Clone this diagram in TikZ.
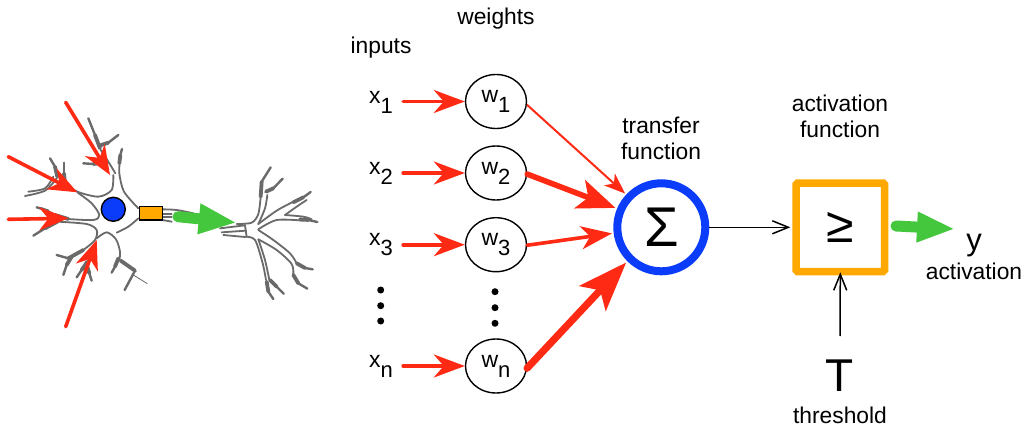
\documentclass[tikz,border=0pt]{standalone}
\usepackage{fontspec}
\setmainfont{Liberation Sans}
\usetikzlibrary{arrows.meta,calc,shapes.geometric}
\definecolor{nred}{HTML}{FF2A14}
\definecolor{nblue}{HTML}{0B3CFA}
\definecolor{norange}{HTML}{FFA800}
\definecolor{ngreen}{HTML}{44C63D}
\definecolor{ngray}{HTML}{6A6A6A}
\newcommand{\subbed}[2]{{\fontsize{23}{26}\selectfont #1}\raisebox{-10pt}{#2}}
% a tapered dendrite end: thick first part, thinner second part
\newcommand{\tap}[3]{\draw[denthick] plot[smooth] coordinates {#1 #2};\draw[dentip] plot[smooth] coordinates {#2 #3};}
\tikzset{
  lab/.style={font=\fontsize{22.8}{26}\selectfont,inner sep=0pt,anchor=base},
  inp/.style={font=\fontsize{22}{26}\selectfont,inner sep=0pt,anchor=base west},
  wnode/.style={ellipse,draw=black,line width=1.4pt,minimum width=61pt,minimum height=54pt,inner sep=0pt,font=\fontsize{22}{26}\selectfont},
  redin/.style={draw=nred,line width=3.6pt,-{Stealth[length=31pt,width=23pt,inset=10pt]},line cap=round},
  redone/.style={draw=nred,line width=2pt,-{Stealth[length=21pt,width=16pt,inset=6pt]}},
  redtwo/.style={draw=nred,line width=5.6pt,line cap=round,-{Stealth[length=38pt,width=30pt,inset=9pt]}},
  redthree/.style={draw=nred,line width=3.6pt,line cap=round,-{Stealth[length=31pt,width=23pt,inset=9pt]}},
  redfour/.style={draw=nred,line width=7.2pt,line cap=round,-{Stealth[length=49pt,width=36pt,inset=11pt]}},
  blackarr/.style={draw=black,line width=1.5pt,-{Straight Barb[length=16pt,width=13pt]}},
  greenarr/.style={draw=ngreen,line width=11pt,line cap=round,-{Stealth[length=38pt,width=28pt,inset=0pt]}},
  dot/.style={circle,fill=black,inner sep=0pt,minimum size=7pt},
  den/.style={draw=ngray,line width=1.8pt,line cap=round,line join=round},
  denthick/.style={draw=ngray,line width=3.8pt,line cap=round,line join=round},
  dentip/.style={draw=ngray,line width=2.4pt,line cap=round,line join=round},
  neuronred/.style={draw=nred,line width=3.6pt,line cap=round,-{Stealth[length=29pt,width=23pt,inset=9pt]}},
}
\begin{document}
\begin{tikzpicture}[x=1pt,y=-1pt]
\useasboundingbox (0,0) rectangle (1024,430);
\fill[white] (0,0) rectangle (1024,430);
% neuron, left part
\begin{scope}[shift={(0,80)},x=0.33333pt,y=-0.33333pt]
\draw[den] plot[smooth] coordinates {(415,385) (372,335) (358,280) (360,240)};
\tap{(358,250)}{(361,225)}{(366,207)}
\draw[den] plot[smooth] coordinates {(346,280) (325,245) (302,210)};
\tap{(300,205)}{(285,165)}{(265,115)}
\tap{(298,197)}{(325,188)}{(355,165)}
\tap{(308,248)}{(280,252)}{(250,250)}
\draw[den] plot[smooth] coordinates {(340,285) (335,330) (295,350) (232,335) (195,310)};
\tap{(195,310)}{(192,280)}{(192,248)}
\tap{(172,290)}{(165,260)}{(150,235)}
\draw[den] plot[smooth] coordinates {(160,290) (135,325) (85,335)};
\draw[den] plot[smooth] coordinates {(170,295) (135,332) (75,348)};
\draw[den] plot[smooth] coordinates {(232,337) (275,370) (298,405) (280,420) (205,417)};
\tap{(205,417)}{(165,405)}{(125,385)}
\draw[dentip] plot[smooth] coordinates {(145,392) (110,382)};
\tap{(172,425)}{(135,445)}{(100,467)}
\draw[den] plot[smooth] coordinates {(172,425) (260,432) (290,450) (285,480) (250,510)};
\tap{(250,510)}{(205,535)}{(170,525)}
\tap{(215,530)}{(200,555)}{(190,585)}
\tap{(262,545)}{(245,570)}{(230,592)}
\tap{(262,560)}{(268,580)}{(275,602)}
\draw[den] plot[smooth] coordinates {(290,475) (320,457) (348,478) (360,515) (358,540)};
\tap{(355,535)}{(345,560)}{(335,578)}
\tap{(362,542)}{(405,572)}{(374,630)}
\draw[ngray,line width=0.8pt] (400,585) -- (442,611);
\draw[den] plot[smooth] coordinates {(350,458) (385,440) (415,415)};
\end{scope}
% neuron, right part
\begin{scope}[shift={(130,140)},x=0.33333pt,y=-0.33333pt]
\draw[den] plot[smooth] coordinates {(97,208) (140,210) (190,220)};
\draw[den] plot[smooth] coordinates {(97,240) (125,245)};
\draw[den] (100,222) -- (125,222);
\draw[den] (100,232) -- (125,232);
\draw[den] (270,265) -- (345,256);
\draw[den] (275,277) -- (348,272);
\draw[den] plot[smooth] coordinates {(280,285) (345,291)};
\draw[den] (345,256) -- (350,291);
\draw[den] plot[smooth] coordinates {(320,252) (365,248) (385,222) (392,170)};
\tap{(392,170)}{(395,125)}{(422,82)}
\tap{(408,155)}{(430,145)}{(458,116)}
\draw[den] plot[smooth] coordinates {(385,252) (405,205) (412,165)};
\draw[den] plot[smooth] coordinates {(385,252) (440,212) (490,185) (520,170)};
\tap{(490,187)}{(520,172)}{(542,156)}
\draw[den] plot[smooth] coordinates {(465,225) (500,200) (530,180)};
\draw[den] plot[smooth] coordinates {(465,225) (520,230) (545,238)};
\draw[den] plot[smooth] coordinates {(385,268) (440,240) (520,242)};
\tap{(510,238)}{(535,240)}{(562,246)}
\draw[den] plot[smooth] coordinates {(385,270) (430,300) (480,340) (500,370)};
\draw[den] plot[smooth] coordinates {(385,298) (440,330) (485,372) (490,405)};
\tap{(490,405)}{(505,430)}{(532,446)}
\tap{(500,370)}{(525,384)}{(548,388)}
\draw[den] plot[smooth] coordinates {(345,290) (375,300) (398,370) (408,420)};
\draw[den] plot[smooth] coordinates {(385,298) (405,360) (418,420)};
\tap{(410,425)}{(415,455)}{(430,477)}
\tap{(420,420)}{(440,440)}{(461,461)}
\end{scope}
\node[circle,draw=black,fill=nblue,line width=1.4pt,minimum size=24pt,inner sep=0pt] (soma) at (113.3,209.3) {};
\node[rectangle,draw=black,fill=norange,line width=1.5pt,minimum width=23pt,minimum height=13.5pt,inner sep=0pt] (hill) at (151,213.3) {};
\coordinate (na) at (65.7,102.3); \coordinate (nat) at (110,175);
\coordinate (nb) at (8.3,156.7);  \coordinate (nbt) at (77.3,192.3);
\coordinate (nc) at (8.3,219.3);  \coordinate (nct) at (68.3,218.3);
\coordinate (nd) at (65.7,326.7); \coordinate (ndt) at (96.7,240);
\draw[neuronred] (na) -- (nat);
\draw[neuronred] (nb) -- (nbt);
\draw[neuronred] (nc) -- (nct);
\draw[neuronred] (nd) -- (ndt);
\coordinate (ga) at (178,216.7); \coordinate (gt) at (236.7,222.7);
\draw[greenarr] (ga) -- (gt);
% model
\node[lab] (tinputs) at (381,53.5) {inputs};
\node[lab] (tweights) at (496,25) {weights};
\node[inp] (x1) at (369,104) {\subbed{x}{1}};
\node[inp] (x2) at (369,175) {\subbed{x}{2}};
\node[inp] (x3) at (369,245) {\subbed{x}{3}};
\node[inp] (xn) at (369,367) {\subbed{x}{n}};
\node[wnode] (w1) at (496,101.5) {\subbed{w}{1}};
\node[wnode] (w2) at (496,173) {\subbed{w}{2}};
\node[wnode] (w3) at (496,244.7) {\subbed{w}{3}};
\node[wnode] (wn) at (496,366) {\subbed{w}{n}};
\node[dot] (da) at (380.7,290) {};
\node[dot] (db) at (380.7,305.7) {};
\node[dot] (dc) at (380.7,321) {};
\node[dot] (dd) at (495,291.7) {};
\node[dot] (de) at (495,307.7) {};
\node[dot] (df) at (495,323.3) {};
\node[circle,draw=nblue,line width=8pt,minimum size=88pt,inner sep=0pt,font=\fontsize{56}{60}\selectfont] (sum) at (661.3,227.3) {\raisebox{-7pt}{Σ}};
\node[rectangle,rounded corners=1.5pt,draw=norange,line width=7.5pt,minimum width=88.5pt,minimum height=88.5pt,inner sep=0pt,font=\fontsize{50}{54}\selectfont] (act) at (840.3,227.3) {\raisebox{-5pt}{≥}};
\draw[redin] ([xshift=10pt]x1.east |- w1.west) -- (w1.west);
\draw[redin] ([xshift=10pt]x2.east |- w2.west) -- (w2.west);
\draw[redin] ([xshift=10pt]x3.east |- w3.west) -- (w3.west);
\draw[redin] ([xshift=10pt]xn.east |- wn.west) -- (wn.west);
\draw[redone,shorten >=1.5pt] (w1.-6) -- (sum.137.5);
\draw[redtwo,shorten >=1.8pt] (w2.-2) -- (sum.157);
\draw[redthree,shorten >=1.7pt] (w3.-1) -- (sum.187);
\draw[redfour,shorten >=1.7pt] (wn.-4) -- (sum.225.9);
\draw[blackarr] (sum.east) -- ([xshift=-2pt]act.west);
\node[lab] (ttrans) at (661,133.3) {transfer};
\node[lab] (tfun) at (661,159.3) {function};
\node[lab] (tact) at (840,111.7) {activation};
\node[lab] (tfun2) at (840,138) {function};
\node[font=\fontsize{46}{50}\selectfont,inner sep=0pt,anchor=base] (T) at (840,391.7) {T};
\node[lab] (tthr) at (840,423) {threshold};
\coordinate (tb) at (840,336);
\draw[blackarr] (tb) -- ([yshift=3pt]act.south);
\node[font=\fontsize{31}{34}\selectfont,inner sep=0pt,anchor=base] (y) at (974,250) {y};
\node[lab] (tout) at (974,279) {activation};
\coordinate (gb) at (896,226); \coordinate (gc) at (955,229);
\draw[greenarr] (gb) -- (gc);
\end{tikzpicture}
\end{document}
